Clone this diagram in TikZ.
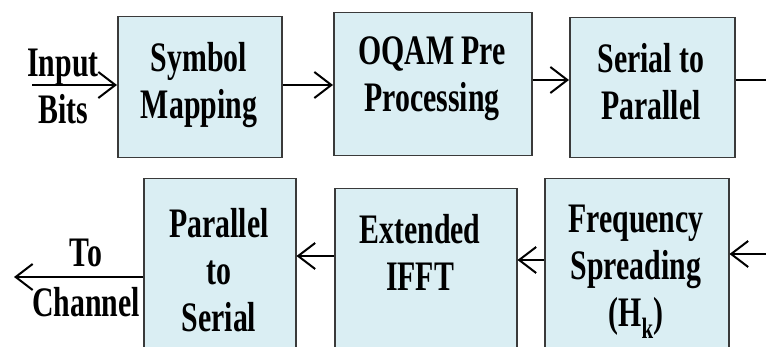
\documentclass[tikz,border=0pt]{standalone}
\usepackage{fontspec}
\setmainfont{Liberation Serif}[FakeStretch=0.71]
\usetikzlibrary{arrows.meta}

\definecolor{boxblue}{HTML}{DAEEF3}
\definecolor{boxline}{HTML}{3A3A3A}

\tikzset{
  blockbox/.style={draw=boxline, line width=1.5pt, fill=boxblue, inner sep=0pt, anchor=north west},
  blocktext/.style={font=\bfseries\fontsize{42}{47}\selectfont, align=center, inner sep=0pt},
  flow/.style={line width=2pt, -{Straight Barb[length=17pt,width=26pt,line width=2pt]}},
}

\begin{document}
\begin{tikzpicture}[x=1pt,y=-1pt]
\useasboundingbox (0,0) rectangle (766,347);
\clip (0,0) rectangle (766,347);

% top row
\node[blockbox, minimum width=164, minimum height=141] (symmap) at (117,16) {};
\node[blocktext] (symmap-t) at (199,85) {Symbol\\Mapping};
\node[blockbox, minimum width=198, minimum height=143] (oqam) at (333,12) {};
\node[blocktext] (oqam-t) at (432,79) {OQAM Pre\\Processing};
\node[blockbox, minimum width=165, minimum height=140] (s2p) at (569,17) {};
\node[blocktext] (s2p-t) at (651,82) {Serial to\\Parallel};

% bottom row
\node[blockbox, minimum width=152, minimum height=200] (p2s) at (143,178) {};
\node[blocktext] (p2s-t) at (219,270) {Parallel\\to\\Serial};
\node[blockbox, minimum width=182, minimum height=200] (ifft) at (334,188) {};
\node[blocktext] (ifft-t) at (420,252) {Extended\\IFFT};
\node[blockbox, minimum width=184, minimum height=200] (freq) at (544,178) {};
\node[blocktext] (freq-t) at (636,272) {Frequency\\Spreading\\(H\textsubscript{k})};

% input / output labels
\node[blocktext] (inbits) at (63,86) {Input\\Bits};
\node[blocktext] (tochan) at (86,278) {To\\[3pt]Channel};

\coordinate (in) at (32,85);
\coordinate (rowA) at (0,85);
\coordinate (rowB) at (766,80);
\coordinate (inR) at (766,254);
\coordinate (rowC) at (0,260);
\coordinate (rowD) at (0,256);
\coordinate (out) at (14,277);

\draw[flow] (in) -- (symmap.west |- in);
\draw[flow] (symmap.east |- rowA) -- (oqam.west |- rowA);
\draw[flow] (oqam.east |- rowB) -- (s2p.west |- rowB);
\draw[line width=2pt] (s2p.east |- rowB) -- (rowB);

\draw[flow] (inR) -- (freq.east |- inR);
\draw[flow] (freq.west |- rowC) -- (ifft.east |- rowC);
\draw[flow] (ifft.west |- rowD) -- (p2s.east |- rowD);
\draw[flow] (p2s.west |- out) -- (out);

\end{tikzpicture}
\end{document}
